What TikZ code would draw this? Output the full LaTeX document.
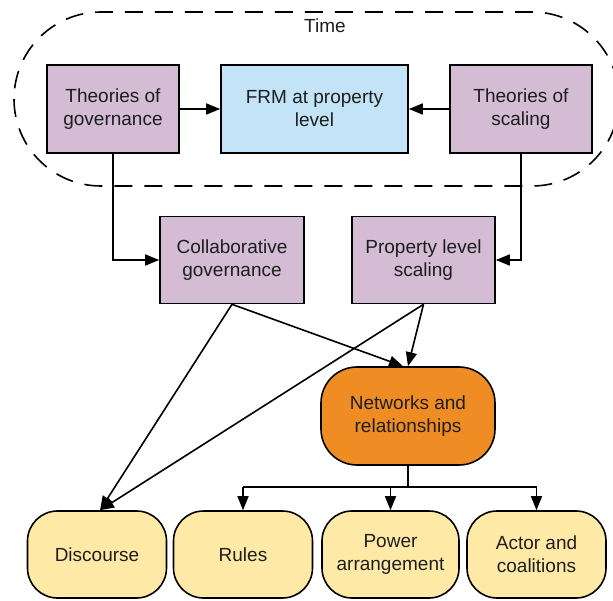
\documentclass[tikz,border=0pt]{standalone}
\usepackage{fontspec}
\setmainfont{Liberation Sans}
\usepackage{tikz}
\usetikzlibrary{arrows.meta, calc, positioning}

\definecolor{boxpurple}{HTML}{D4BCD4}
\definecolor{boxblue}{HTML}{C2E4F6}
\definecolor{boxorange}{HTML}{EF8C24}
\definecolor{boxyellow}{HTML}{FEE9A6}
\definecolor{inktext}{HTML}{1E1E1E}

\tikzset{
    basebox/.style={draw=black, line width=1.6pt, inner sep=0pt, align=center,
        text=inktext, font=\fontsize{19}{23}\selectfont},
    purplebox/.style={basebox, fill=boxpurple},
    bluebox/.style={basebox, fill=boxblue},
    orangebox/.style={basebox, fill=boxorange, rounded corners=36pt},
    yellowbox/.style={basebox, fill=boxyellow, rounded corners=30pt,
        minimum width=139pt, minimum height=87pt},
    arrow/.style={line width=1.6pt, -{Triangle[length=14pt, width=11pt]}}
}

\begin{document}
\begin{tikzpicture}[x=1pt, y=-1pt]
    \useasboundingbox (0,0) rectangle (613,601);
    % time frame
    \begin{scope}
        \clip (0,0) rectangle (613,601);
        \draw[line width=1.6pt, dash pattern=on 18pt off 12pt, rounded corners=87pt] (14,12) rectangle (619,186);
    \end{scope}
    \node[text=inktext, font=\fontsize{19}{23}\selectfont] (time) at (325,26) {Time};
    % top row
    \node[purplebox, minimum width=132pt, minimum height=88pt] (tg) at (113,109) {Theories of\\governance};
    \node[bluebox, minimum width=187pt, minimum height=88pt] (frm) at (314.5,109) {FRM at property\\level};
    \node[purplebox, minimum width=142pt, minimum height=88pt] (ts) at (521,109) {Theories of\\scaling};
    % middle row
    \node[purplebox, minimum width=144pt, minimum height=87pt] (cg) at (232,260) {Collaborative\\governance};
    \node[purplebox, minimum width=143pt, minimum height=87pt] (pls) at (423.5,260) {Property level\\scaling};
    \node[orangebox, minimum width=174pt, minimum height=98pt] (nr) at (408,416) {Networks and\\relationships};
    % bottom row
    \node[yellowbox] (disc) at (97,554.5) {Discourse};
    \node[yellowbox] (rules) at (243,554.5) {Rules};
    \node[yellowbox, minimum width=137pt] (power) at (390.5,554.5) {Power\\arrangement};
    \node[yellowbox] (actor) at (536.5,554.5) {Actor and\\coalitions};
    % connectors
    \draw[arrow] (tg) -- (frm);
    \draw[arrow] (ts) -- (frm);
    \draw[arrow] (tg.south) |- (cg.west);
    \draw[arrow] (ts.south) |- (pls.east);
    \draw[arrow] (cg.south) -- ([xshift=3pt]disc.north);
    \draw[arrow] (cg.south) -- ([xshift=-5pt]nr.north);
    \draw[arrow] (pls.south) -- (nr.north);
    \draw[arrow] (pls.south) -- ([xshift=3pt]disc.north);
    % bus to the bottom row
    \coordinate (bus) at (408,487);
    \draw[line width=1.6pt] (nr.south) -- (bus);
    \draw[line width=1.6pt] (bus -| rules.north) -- (bus -| actor.north);
    \foreach \n in {rules, power, actor} {
        \draw[arrow] (bus -| \n.north) -- (\n.north);
    }
\end{tikzpicture}
\end{document}
